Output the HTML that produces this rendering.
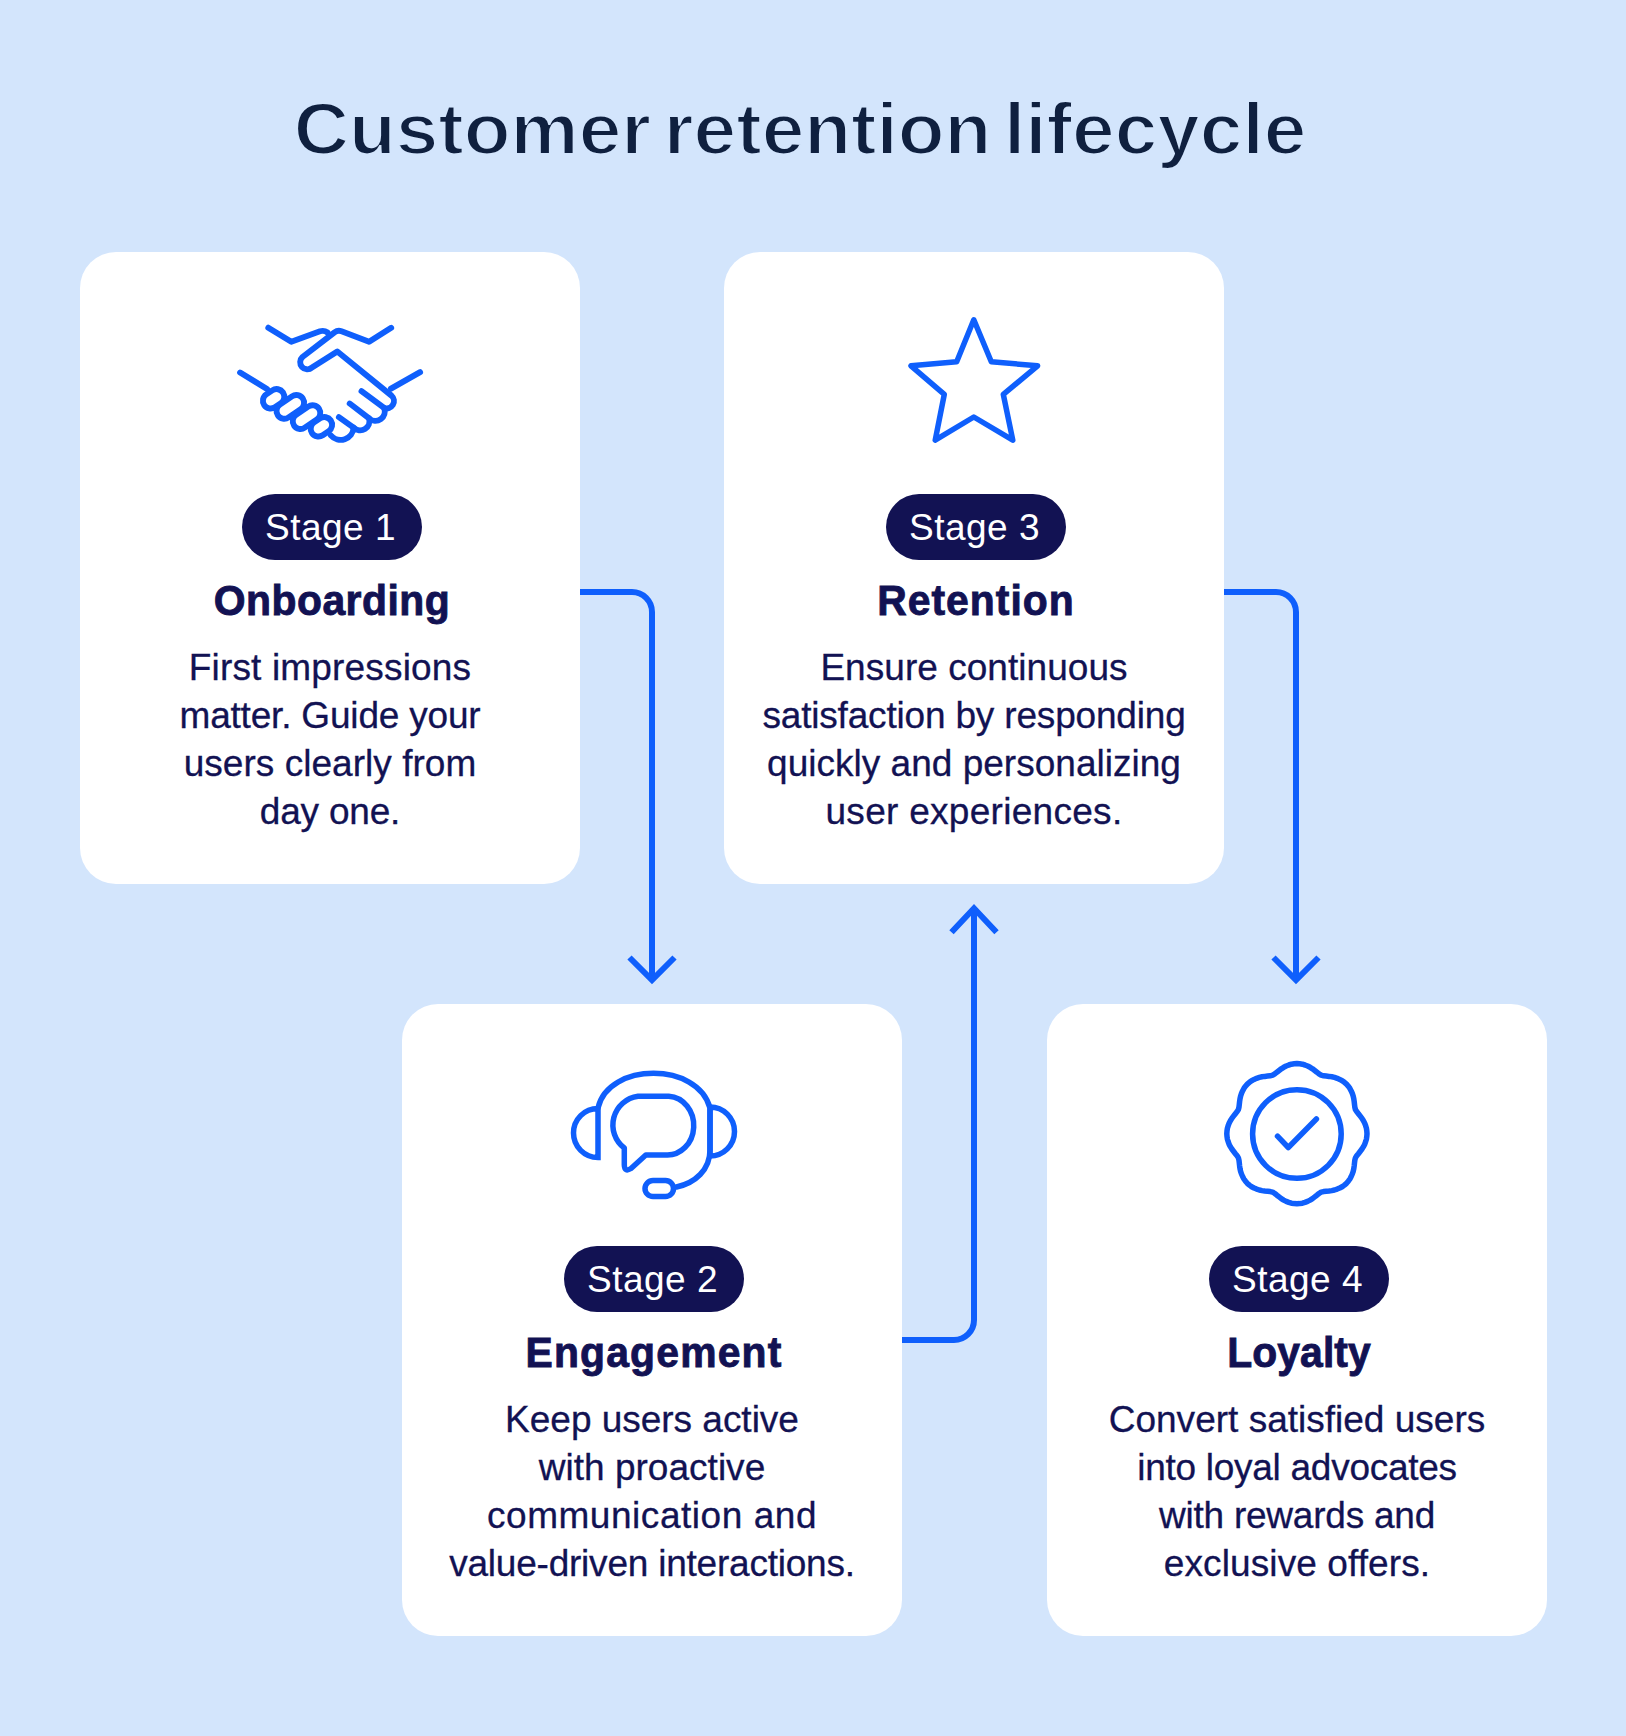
<!DOCTYPE html>
<html>
<head>
<meta charset="utf-8">
<style>
html,body{margin:0;padding:0;}
body{width:1626px;height:1736px;background:#D3E5FC;position:relative;overflow:hidden;font-family:"Liberation Sans",sans-serif;}
.title{position:absolute;left:0;top:88.5px;width:1600px;text-align:center;font-weight:bold;font-size:73px;line-height:80px;letter-spacing:0px;word-spacing:-8.2px;transform:scaleX(1.049);transform-origin:800px 0;-webkit-text-stroke:2.2px #D3E5FC;color:#0F203F;white-space:nowrap;}
.card{position:absolute;width:500px;height:632px;background:#fff;border-radius:36px;}
.pill{position:absolute;left:162px;top:242px;width:180px;height:66px;border-radius:33px;background:#121253;color:#fff;font-size:37px;line-height:68px;letter-spacing:0.5px;text-indent:-3px;text-align:center;}
.h{position:absolute;left:2px;width:500px;top:324px;text-align:center;font-weight:bold;font-size:43px;line-height:48px;transform:scaleX(0.95);transform-origin:250px 0;-webkit-text-stroke:0.9px #121253;color:#121253;}
.b{position:absolute;left:0;width:500px;top:392px;text-align:center;font-size:37px;line-height:48px;letter-spacing:0.1px;-webkit-text-stroke:0.3px #121253;color:#121253;}
svg.ov{position:absolute;left:0;top:0;}
</style>
</head>
<body>
<div class="title">Customer retention lifecycle</div>
<div class="card" style="left:80px;top:252px;">
  <div class="pill">Stage 1</div>
  <div class="h" style="letter-spacing:0.51px">Onboarding</div>
  <div class="b"><div style="letter-spacing:0.16px">First impressions</div><div style="letter-spacing:-0.19px">matter. Guide your</div><div style="letter-spacing:0.04px">users clearly from</div><div style="letter-spacing:-0.19px">day one.</div></div>
</div>
<div class="card" style="left:724px;top:252px;">
  <div class="pill">Stage 3</div>
  <div class="h" style="letter-spacing:1.07px">Retention</div>
  <div class="b"><div style="letter-spacing:0.04px">Ensure continuous</div><div style="letter-spacing:-0.18px">satisfaction by responding</div><div style="letter-spacing:0.02px">quickly and personalizing</div><div style="letter-spacing:0.29px">user experiences.</div></div>
</div>
<div class="card" style="left:402px;top:1004px;">
  <div class="pill">Stage 2</div>
  <div class="h" style="letter-spacing:1.25px">Engagement</div>
  <div class="b"><div style="letter-spacing:-0.02px">Keep users active</div><div style="letter-spacing:0.02px">with proactive</div><div style="letter-spacing:0.54px">communication and</div><div style="letter-spacing:-0.22px">value-driven interactions.</div></div>
</div>
<div class="card" style="left:1047px;top:1004px;">
  <div class="pill">Stage 4</div>
  <div class="h" style="letter-spacing:0.10px">Loyalty</div>
  <div class="b"><div style="letter-spacing:0.01px">Convert satisfied users</div><div style="letter-spacing:-0.27px">into loyal advocates</div><div style="letter-spacing:-0.23px">with rewards and</div><div style="letter-spacing:0.10px">exclusive offers.</div></div>
</div>

<svg class="ov" width="1626" height="1736" viewBox="0 0 1626 1736" fill="none" stroke="#0F5FFC" stroke-width="6">
<path d="M580 592H632A20 20 0 0 1 652 612V980"/>
<path d="M629.5 957.5L652 980L674.5 957.5"/>
<path d="M902 1340H954A20 20 0 0 0 974 1320V908.3"/>
<path d="M951.5 932.3L974 908.3L996.5 932.3"/>
<path d="M1224 592H1276A20 20 0 0 1 1296 612V980"/>
<path d="M1273.5 957.5L1296 980L1318.5 957.5"/>
<g stroke-width="5.5" stroke-linecap="round" stroke-linejoin="round">
<path d="M973.8 319.8L991.3 361.7L1037.6 365.8L1003.3 394.4L1012.8 440.2L973.8 417L935.2 440.2L944.3 394.4L911 365.8L956.7 361.7Z"/>

<path d="M1296.9,1063.6L1299.6,1063.8L1302.4,1064.2L1305.0,1065.0L1307.6,1066.0L1310.1,1067.3L1312.5,1068.8L1314.7,1070.5L1316.9,1072.2L1319.0,1073.9L1321.1,1075.2L1323.6,1075.8L1326.2,1076.1L1329.0,1076.4L1331.8,1076.8L1334.5,1077.4L1337.2,1078.3L1339.7,1079.4L1342.2,1080.7L1344.4,1082.3L1346.5,1084.1L1348.3,1086.2L1349.9,1088.4L1351.2,1090.9L1352.3,1093.4L1353.2,1096.1L1353.8,1098.8L1354.2,1101.6L1354.5,1104.4L1354.8,1107.0L1355.4,1109.5L1356.7,1111.6L1358.4,1113.7L1360.1,1115.9L1361.8,1118.1L1363.3,1120.5L1364.6,1123.0L1365.6,1125.6L1366.4,1128.2L1366.8,1131.0L1367.0,1133.7L1366.8,1136.4L1366.4,1139.2L1365.6,1141.8L1364.6,1144.4L1363.3,1146.9L1361.8,1149.3L1360.1,1151.5L1358.4,1153.7L1356.7,1155.8L1355.4,1157.9L1354.8,1160.4L1354.5,1163.0L1354.2,1165.8L1353.8,1168.6L1353.2,1171.3L1352.3,1174.0L1351.2,1176.5L1349.9,1179.0L1348.3,1181.2L1346.5,1183.3L1344.4,1185.1L1342.2,1186.7L1339.7,1188.0L1337.2,1189.1L1334.5,1190.0L1331.8,1190.6L1329.0,1191.0L1326.2,1191.3L1323.6,1191.6L1321.1,1192.2L1319.0,1193.5L1316.9,1195.2L1314.7,1196.9L1312.5,1198.6L1310.1,1200.1L1307.6,1201.4L1305.0,1202.4L1302.4,1203.2L1299.6,1203.6L1296.9,1203.8L1294.2,1203.6L1291.4,1203.2L1288.8,1202.4L1286.2,1201.4L1283.7,1200.1L1281.3,1198.6L1279.1,1196.9L1276.9,1195.2L1274.8,1193.5L1272.7,1192.2L1270.2,1191.6L1267.6,1191.3L1264.8,1191.0L1262.0,1190.6L1259.3,1190.0L1256.6,1189.1L1254.1,1188.0L1251.6,1186.7L1249.4,1185.1L1247.3,1183.3L1245.5,1181.2L1243.9,1179.0L1242.6,1176.5L1241.5,1174.0L1240.6,1171.3L1240.0,1168.6L1239.6,1165.8L1239.3,1163.0L1239.0,1160.4L1238.4,1157.9L1237.1,1155.8L1235.4,1153.7L1233.7,1151.5L1232.0,1149.3L1230.5,1146.9L1229.2,1144.4L1228.2,1141.8L1227.4,1139.2L1227.0,1136.4L1226.8,1133.7L1227.0,1131.0L1227.4,1128.2L1228.2,1125.6L1229.2,1123.0L1230.5,1120.5L1232.0,1118.1L1233.7,1115.9L1235.4,1113.7L1237.1,1111.6L1238.4,1109.5L1239.0,1107.0L1239.3,1104.4L1239.6,1101.6L1240.0,1098.8L1240.6,1096.1L1241.5,1093.4L1242.6,1090.9L1243.9,1088.4L1245.5,1086.2L1247.3,1084.1L1249.4,1082.3L1251.6,1080.7L1254.1,1079.4L1256.6,1078.3L1259.3,1077.4L1262.0,1076.8L1264.8,1076.4L1267.6,1076.1L1270.2,1075.8L1272.7,1075.2L1274.8,1073.9L1276.9,1072.2L1279.1,1070.5L1281.3,1068.8L1283.7,1067.3L1286.2,1066.0L1288.8,1065.0L1291.4,1064.2L1294.2,1063.8Z"/>
<circle cx="1296.9" cy="1134" r="44.3"/>
<path d="M1277.5 1136.2L1288.3 1147.5L1316.4 1119"/>


<path d="M598,1108C603,1085 628,1073.3 653.5,1073.3S704,1085 710,1108L710,1150C710,1170 695,1183 676.5,1187"/>
<path stroke-linejoin="miter" d="M598,1108.5A24.5,24.5 0 0 0 598,1157.5Z"/>
<path stroke-linejoin="miter" d="M710,1107A24.5,24.5 0 0 1 710,1156Z"/>
<rect x="645" y="1180.5" width="28.5" height="16" rx="8"/>
<path d="M638,1096.2L668.8,1096.2A26.4,29.4 0 0 1 665.8,1155L645.8,1155L631,1168.5Q624.5,1172.5 624.3,1165L624.3,1148A29,29 0 0 1 638,1096.2Z"/>

</g>
<g stroke-width="5.9" stroke-linecap="round" stroke-linejoin="round">

<path d="M268.3,327.7L291.3,341.8L320,331.3Q324,330 327.5,332.5"/>
<path d="M240.1,372.5L267,389"/>
<path d="M274.9,407.2L280.9,403.2A7.7,7.7 0 0 0 272.3,390.4L266.3,394.4A7.7,7.7 0 0 0 274.9,407.2Z M288.6,417.4L300.7,409.2A7.7,7.7 0 0 0 292.0,396.4L279.9,404.6A7.7,7.7 0 0 0 288.6,417.4Z M304.8,427.6L316.9,419.4A7.7,7.7 0 0 0 308.2,406.6L296.1,414.8A7.7,7.7 0 0 0 304.8,427.6Z M322.7,435.2L328.7,431.2A7.7,7.7 0 0 0 320.1,418.4L314.1,422.4A7.7,7.7 0 0 0 322.7,435.2Z"/>
<path d="M420.1,372.1L391,388.6"/>
<path d="M391.2,327.8L369.1,341.7L341.5,331.3Q337.8,330 334.5,332.3L302.5,357A6.8,6.8 0 0 0 312,367.5L337.3,351.5L391.5,395.6A7.3,7.3 0 0 1 384.1,407.9A9.4,9.4 0 0 1 369.1,418.4A9.3,9.3 0 0 1 353.6,427.6A13,13 0 0 1 330.8,435.4"/>
<path d="M361.5,391.2L384.1,407.9M349.7,403.5L369.1,418.4M338.9,417.2L353.6,427.6"/>

</g>
</svg>
</body>
</html>
